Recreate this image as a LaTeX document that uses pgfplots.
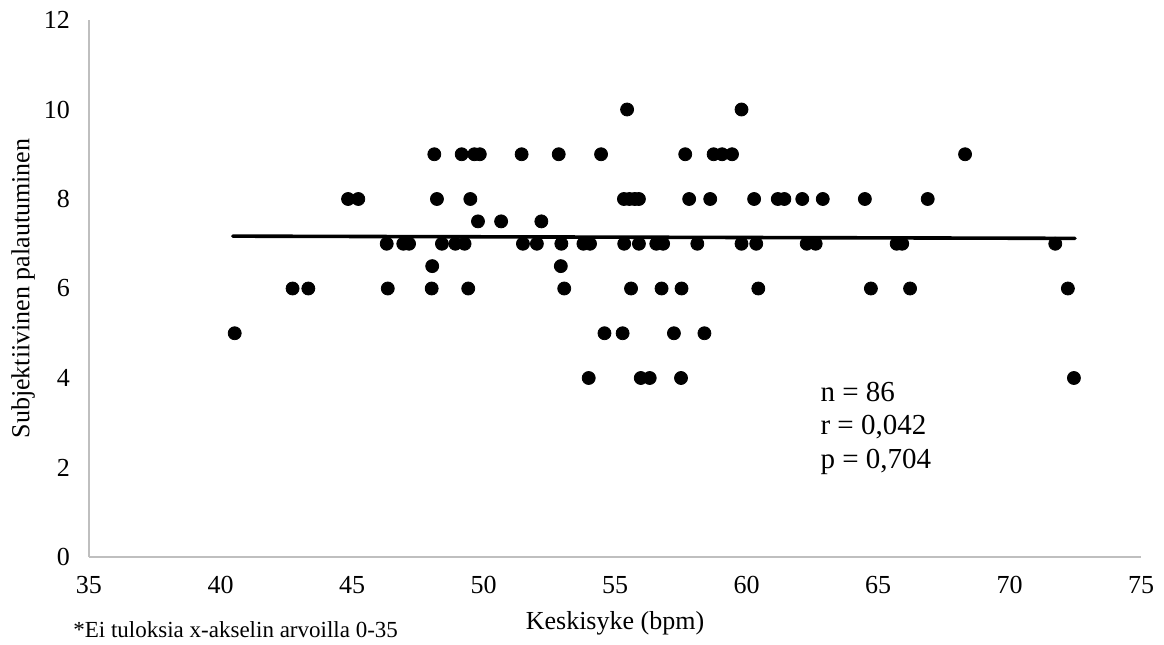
\documentclass[border=0pt]{standalone}
\usepackage{fontspec}
\setmainfont{Liberation Serif}
\usepackage{pgfplots}
\pgfplotsset{compat=1.18}
\begin{document}
\begin{tikzpicture}
\useasboundingbox (0,0) rectangle (582pt,322pt);
\begin{axis}[
  at={(44.5pt,43.5pt)}, anchor=south west,
  x=13.15pt, y=22.375pt,
  xmin=35, xmax=75, ymin=0, ymax=12,
  xtick={35,40,...,75}, ytick={0,2,...,12},
  axis x line=bottom, axis y line=left,
  axis line style={-, draw=black!25, line width=0.6pt},
  major tick length=0pt,
  /pgf/number format/assume math mode=true,
  tick label style={font=\fontsize{13}{15}\selectfont},
  yticklabel style={xshift=-6pt},
  xticklabel style={yshift=-6pt},
  xlabel={Keskisyke (bpm)},
  ylabel={Subjektiivinen palautuminen},
  label style={font=\fontsize{13}{15}\selectfont},
  xlabel style={at={(axis description cs:0.5,0)}, anchor=center, yshift=-33pt},
  ylabel style={at={(axis description cs:0,0.5)}, anchor=center, yshift=33pt},
  clip=false,
]
\addplot[only marks, mark=*, mark size=3.25pt, black] coordinates {
(55.46,10) (59.81,10)
(48.13,9) (49.17,9) (49.65,9) (49.86,9) (51.45,9) (52.86,9) (54.47,9) (57.67,9) (58.75,9) (59.07,9) (59.45,9) (68.31,9)
(44.85,8) (45.24,8) (48.23,8) (49.50,8) (55.34,8) (55.55,8) (55.75,8) (55.91,8) (57.82,8) (58.62,8) (60.29,8) (61.19,8) (61.44,8) (62.12,8) (62.90,8) (64.50,8) (66.89,8)
(49.79,7.5) (50.67,7.5) (52.20,7.5)
(46.32,7) (46.95,7) (47.17,7) (48.42,7) (48.93,7) (49.28,7) (51.50,7) (52.03,7) (52.96,7) (53.80,7) (54.05,7) (55.35,7) (55.91,7) (56.57,7) (56.83,7) (58.13,7) (59.81,7) (60.37,7) (62.29,7) (62.63,7) (65.71,7) (65.92,7) (71.74,7)
(48.05,6.5) (52.94,6.5)
(42.74,6) (43.34,6) (46.36,6) (48.03,6) (49.42,6) (53.07,6) (55.61,6) (56.77,6) (57.53,6) (60.45,6) (64.73,6) (66.22,6) (72.22,6)
(40.54,5) (54.60,5) (55.29,5) (57.24,5) (58.40,5)
(54.00,4) (55.98,4) (56.32,4) (57.51,4) (72.45,4)
};
\addplot[black, line width=1.8pt, line cap=round] coordinates {(40.47,7.17) (72.49,7.12)};
\node[anchor=north west, inner sep=0pt, align=left, font=\fontsize{14.5}{16.75}\selectfont] at (axis cs:62.8,3.92) {n = 86\\r = 0,042\\p = 0,704};
\end{axis}
\node[anchor=west, inner sep=0pt, font=\fontsize{11.5}{13}\selectfont] at (36.5pt,7pt) {*Ei tuloksia x-akselin arvoilla 0-35};
\end{tikzpicture}
\end{document}
